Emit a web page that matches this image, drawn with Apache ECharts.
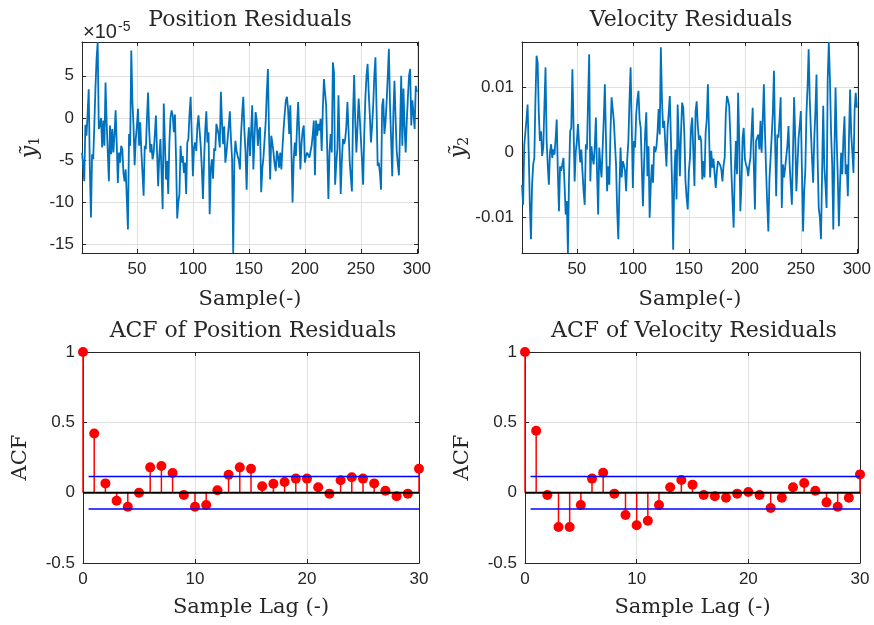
<!DOCTYPE html>
<html>
<head>
<meta charset="utf-8">
<script src="https://cdn.jsdelivr.net/npm/echarts@6/dist/echarts.min.js"></script>
<style>
  html, body { margin: 0; padding: 0; background: #ffffff; }
  #chart { width: 874px; height: 625px; }
</style>
</head>
<body>
<div id="chart"></div>
<script>
// Position residuals, in units of 1e-5 (samples 1..300)
const positionResiduals = [
  -4.1, -5.5, -7.5, -0.8, -2.1, 0.5, 3.4, -6.0, -11.8, -4.3,
  -4.9, -0.9, 3.5, 7.0, 9.0, -1.3, -0.9, 0.0, -3.5, -0.3,
  -3.3, 4.2, -0.5, -4.0, -7.5, -0.9, -4.3, -1.3, -4.1, -2.0,
  0.9, -3.0, -7.7, -4.1, -5.3, -3.3, -3.7, -6.5, -7.5, -6.1,
  -9.5, -13.2, -1.9, -3.3, 8.0, 2.0, -0.9, -5.6, -2.5, -1.0,
  1.1, -3.3, -0.5, -4.0, -6.5, -9.2, -3.3, -3.7, 0.0, 3.0,
  -1.5, -4.1, -3.1, -4.9, -4.1, -2.0, 0.3, -4.0, -8.1, -4.5,
  -2.5, -6.5, -10.8, 1.7, 1.9, -7.3, -5.1, -9.0, -3.0, 0.0,
  0.9, 0.3, -1.7, 0.4, -5.0, -11.9, -10.0, -9.0, -3.3, -5.3,
  -4.5, -6.5, -5.3, -9.0, -2.9, -2.5, 0.5, 2.5, -2.0, -6.9,
  -3.5, -2.9, -3.9, -1.0, 0.3, -1.5, -3.3, -6.0, -9.6, -5.0,
  -1.5, 0.8, -2.9, -1.7, -11.4, -6.0, -4.9, -7.2, -3.6, -3.9,
  -0.7, -1.3, -2.0, -3.5, 3.1, -0.5, -3.1, -1.0, -5.3, -4.1,
  -2.5, -1.0, 0.8, -2.5, -4.9, -16.0, -5.0, -2.7, -3.9, -4.5,
  -5.0, -6.1, -2.0, 0.5, 2.5, -1.5, -4.1, -8.5, -3.0, -1.1,
  -4.5, -1.5, 1.5, -6.1, -2.5, 0.7, -0.3, -3.3, -1.5, -1.1,
  -8.8, -6.0, -4.7, -4.5, -0.5, 3.0, 5.8, -2.0, -7.3, -2.1,
  -3.0, -4.1, -5.5, -6.3, -3.9, -4.5, -5.9, -4.1, -6.1, -3.5,
  -1.3, 0.5, 2.1, 2.5, 1.0, -1.9, 1.5, -4.0, -10.0, -5.0,
  -2.9, -4.5, -1.0, 1.9, -2.0, -6.1, -3.0, -1.5, -0.9, -5.3,
  -4.5, -4.1, -4.0, -4.7, -4.0, -3.3, -2.0, -0.3, -6.8, -0.3,
  -2.1, -0.7, -1.5, -0.1, -3.9, 1.0, 4.6, 3.0, 1.5, -4.0,
  -9.6, -4.0, -1.9, -4.1, 6.6, 5.4, -7.9, -5.5, -3.7, 2.7,
  -3.0, -9.0, -5.0, -2.5, -3.1, -2.5, -1.0, 1.9, -1.5, -5.1,
  -7.0, -8.7, 0.5, 5.1, -0.5, -4.1, -1.0, 2.3, 0.0, -2.5,
  -5.0, -7.9, -2.0, 2.3, 5.0, 6.4, 3.0, 0.3, -2.9, -1.0,
  1.5, 5.0, 7.2, 1.1, -5.7, -5.3, -6.5, -8.5, 1.5, 2.3,
  -1.9, -0.5, 1.9, 5.0, 8.2, 1.5, -2.5, -6.9, 0.5, 4.4,
  -0.1, -3.9, -5.5, -6.8, -1.3, 5.0, -3.3, 3.5, -1.0, -4.1,
  -0.3, 2.5, 5.0, 5.8, -0.9, 2.1, 0.5, -1.3, 3.8, 3.1
];

// Velocity residuals, in units of 1e-2 (samples 1..300)
const velocityResiduals = [
  -0.5, -0.81, 0.1, 0.3, 0.5, 0.73, 0.0, -0.8, -1.34, -0.5,
  -0.19, -0.09, 0.8, 1.48, 1.37, 0.6, 0.17, 0.32, -0.06, 0.07,
  0.7, 1.30, 0.17, -0.2, -0.50, 0.0, 0.12, -0.09, 0.04, -0.04,
  0.2, 0.50, -0.3, -0.91, -0.22, -0.29, -0.27, -0.09, -0.5, -0.96,
  -0.75, -1.55, -0.4, 0.32, 0.37, 1.27, 0.43, -0.45, 0.0, 0.17,
  0.43, 0.1, -0.16, 0.04, -0.3, -0.6, -0.81, 0.12, 0.04, 0.8,
  1.50, -0.45, 0.09, -0.09, -0.19, 0.1, 0.53, -0.3, -0.96, 0.07,
  -0.2, -0.39, -0.39, 0.5, 1.04, 0.2, -0.60, -0.22, -0.50, 0.3,
  0.84, 0.86, 0.48, 0.45, -0.2, -0.9, -1.34, -0.55, 0.07, -0.39,
  -0.14, -0.2, -0.29, -0.60, -0.1, 0.17, 0.8, 1.30, 0.4, -0.55,
  0.17, 0.07, 0.58, 0.8, 0.94, 0.5, 0.37, 0.40, -0.83, -0.2,
  0.3, 0.61, -0.37, 0.09, -1.01, -0.5, -0.19, -0.47, 0.09, 0.0,
  0.07, 0.3, 0.66, 0.27, 1.61, 0.8, 0.37, 0.48, 0.1, -0.22,
  0.37, 0.6, 0.86, 0.2, -0.50, -1.50, -0.4, 0.04, -0.73, 0.73,
  0.2, -0.37, 0.3, 0.76, 0.68, 0.27, -0.45, -0.7, -0.88, -0.3,
  -0.09, 0.37, 0.53, 0.0, -0.52, 0.63, 0.78, 0.4, 0.19, 0.25,
  0.17, -0.42, -0.14, -0.39, 0.3, 0.50, 1.04, 0.32, -0.39, 0.02,
  -0.24, -0.1, -0.11, -0.55, -0.3, -0.14, -0.16, -0.2, -0.27, -0.45,
  -0.2, -0.09, 0.58, 0.86, 0.8, 0.71, 0.27, -0.3, -0.75, -1.16,
  -0.3, 0.17, -0.34, 0.91, 0.17, -0.91, -0.5, 0.22, 0.37, -0.1,
  -0.19, -0.24, -0.37, -0.2, -0.09, 0.3, 0.68, -0.2, -0.88, 0.17,
  0.17, 0.27, 0.04, 0.48, -0.01, 0.5, 1.04, 0.3, -0.29, -0.8,
  -1.22, -0.4, -0.09, -0.09, 0.6, 1.25, 0.2, -0.68, 0.27, 0.22,
  0.5, 0.84, -0.86, -0.19, -0.39, -0.24, -0.24, 0.1, 0.40, -0.19,
  -0.50, -0.81, 0.0, 0.84, 0.22, -0.60, -0.2, 0.22, 0.4, 0.63,
  -0.3, -1.22, -0.6, -0.29, 0.58, 1.0, 1.58, 0.8, 0.32, -0.1,
  -0.47, 0.2, 0.63, 1.19, -0.09, -0.86, -1.0, -1.34, -0.3, 0.71,
  -0.24, -0.5, -0.86, 1.12, 1.69, 1.12, 0.3, -0.19, -1.19, 0.0,
  0.99, 0.2, -0.39, -1.14, -0.5, -0.01, -0.34, 0.2, 0.55, -0.34,
  -0.19, -0.68, 0.22, 0.96, 0.27, 0.0, -0.32, 0.63, 0.91, 0.68
];

// Sample autocorrelation, lags 0..30
const acfPosition = [
  1.0, 0.42, 0.066, -0.057, -0.10, 0.0, 0.18, 0.19, 0.14, -0.017,
  -0.10, -0.088, 0.017, 0.128, 0.18, 0.17, 0.045, 0.064, 0.076, 0.10,
  0.10, 0.038, -0.007, 0.088, 0.109, 0.10, 0.066, 0.014, -0.026, -0.007,
  0.17
];
const acfVelocity = [
  1.0, 0.44, -0.017, -0.244, -0.244, -0.088, 0.10, 0.142, -0.007, -0.159,
  -0.232, -0.20, -0.088, 0.038, 0.09, 0.057, -0.017, -0.026, -0.036, -0.007,
  0.005, -0.017, -0.109, -0.036, 0.038, 0.069, 0.014, -0.069, -0.10, -0.036,
  0.13
];

// Axis ticks
const sampleTicks = [50, 100, 150, 200, 250, 300];
const positionTicks = [-15, -10, -5, 0, 5];
const velocityTicks = [-1, 0, 1];
const lagTicks = [0, 10, 20, 30];
const acfTicks = [-0.5, 0, 0.5, 1];

const numLags = 30;
const acfBound = 0.1155;   // approx. 2/sqrt(N), N = 300
const boundStartLag = 0.5;

const INK = '#262626';
const GRID = '#e0e0e0';
const LINE_BLUE = '#0072BD';
const SERIF = 'DejaVu Serif';
const SANS = 'Liberation Sans';

const chart = echarts.init(document.getElementById('chart'), null, { renderer: 'canvas' });

const grids = [
  { left: 82, top: 42, width: 336, height: 211 },
  { left: 522, top: 42, width: 337, height: 211 },
  { left: 83, top: 352, width: 336, height: 211 },
  { left: 525, top: 352, width: 335, height: 211 }
];

function xPair(g, min, max, ticks, name, nameGap) {
  const base = {
    type: 'value', gridIndex: g, min: min, max: max,
    axisLine: { show: true, onZero: false, lineStyle: { color: INK, width: 1 } },
    axisTick: { show: true, inside: true, length: 4, customValues: ticks, lineStyle: { color: INK } },
  };
  return [
    Object.assign({}, base, {
      position: 'bottom',
      axisLabel: { show: true, customValues: ticks, color: INK, fontFamily: SANS, fontSize: 17, margin: 8 },
      splitLine: { show: true, lineStyle: { color: GRID, width: 1 } },
      name: name, nameLocation: 'middle', nameGap: nameGap,
      nameTextStyle: { fontFamily: SERIF, fontSize: 21, color: INK }
    }),
    Object.assign({}, base, {
      position: 'top',
      axisLabel: { show: false },
      splitLine: { show: false }
    })
  ];
}

function yPair(g, min, max, ticks, fmt, name, nameGap, rich) {
  const base = {
    type: 'value', gridIndex: g, min: min, max: max, splitNumber: ticks.length - 1,
    axisLine: { show: true, onZero: false, lineStyle: { color: INK, width: 1 } },
    axisTick: { show: true, inside: true, length: 4, customValues: ticks, lineStyle: { color: INK } },
  };
  const left = Object.assign({}, base, {
    position: 'left',
    axisLabel: { show: true, customValues: ticks, color: INK, fontFamily: SANS, fontSize: 17, margin: 8, formatter: fmt },
    splitLine: { show: true, lineStyle: { color: GRID, width: 1 } },
    name: name, nameLocation: 'middle', nameGap: nameGap, nameRotate: 90,
    nameTextStyle: { fontFamily: SERIF, fontSize: 21, color: INK, rich: rich }
  });
  const right = Object.assign({}, base, {
    position: 'right',
    axisLabel: { show: false },
    splitLine: { show: false }
  });
  return [left, right];
}

const yRich = {
  y: { fontFamily: SERIF, fontStyle: 'italic', fontSize: 22, color: INK },
  s: { fontFamily: SERIF, fontSize: 14, color: INK, padding: [10, 0, 0, 0] }
};

const xAxes = [].concat(
  xPair(0, 1, 301, sampleTicks, 'Sample(-)', 36),
  xPair(1, 1, 301, sampleTicks, 'Sample(-)', 36),
  xPair(2, 0, numLags, lagTicks, 'Sample Lag (-)', 34),
  xPair(3, 0, numLags, lagTicks, 'Sample Lag (-)', 34)
);
const yAxes = [].concat(
  yPair(0, -16, 9, positionTicks, v => String(v), '{y|ỹ}{s|1}', 40, yRich),
  yPair(1, -1.55, 1.69, velocityTicks, v => (v === 0 ? '0' : (v / 100).toFixed(2)), '{y|ỹ}{s|2}', 50, yRich),
  yPair(2, -0.5, 1, acfTicks, v => String(v), 'ACF', 52, null),
  yPair(3, -0.5, 1, acfTicks, v => String(v), 'ACF', 52, null)
);

function residualSeries(values, g) {
  return {
    type: 'line', xAxisIndex: 2 * g, yAxisIndex: 2 * g,
    data: values.map((v, i) => [i + 1, v]),
    showSymbol: false, symbol: 'none',
    lineStyle: { color: LINE_BLUE, width: 1.8 },
    z: 3
  };
}

function acfSeries(values, g) {
  const pts = values.map((v, lag) => [lag, v]);
  const ax = { xAxisIndex: 2 * g, yAxisIndex: 2 * g };
  return [
    Object.assign({
      type: 'custom',
      data: pts,
      renderItem: function (params, api) {
        const lag = api.value(0), v = api.value(1);
        const p0 = api.coord([lag, 0]);
        const p1 = api.coord([lag, v]);
        return {
          type: 'line',
          shape: { x1: p0[0], y1: p0[1], x2: p1[0], y2: p1[1] },
          style: { stroke: '#ff0000', lineWidth: 1.5 }
        };
      },
      z: 3
    }, ax),
    Object.assign({
      type: 'scatter', data: pts, symbol: 'circle', symbolSize: 10,
      itemStyle: { color: '#ff0000', opacity: 1 }, z: 4
    }, ax),
    Object.assign({
      type: 'line', data: [[boundStartLag, acfBound], [numLags, acfBound]],
      showSymbol: false, symbol: 'none', lineStyle: { color: '#0000ff', width: 1.5 }, z: 5
    }, ax),
    Object.assign({
      type: 'line', data: [[boundStartLag, -acfBound], [numLags, -acfBound]],
      showSymbol: false, symbol: 'none', lineStyle: { color: '#0000ff', width: 1.5 }, z: 5
    }, ax),
    Object.assign({
      type: 'line', data: [[0, 0], [numLags, 0]],
      showSymbol: false, symbol: 'none', lineStyle: { color: '#000000', width: 2 }, z: 6
    }, ax)
  ];
}

const titleFont = '22px "' + SERIF + '"';
function titleText(text, cx, cy) {
  return {
    type: 'text', x: cx, y: cy,
    style: { text: text, font: titleFont, fill: INK, textAlign: 'center', textVerticalAlign: 'middle' }
  };
}

const option = {
  animation: false,
  backgroundColor: '#ffffff',
  grid: grids,
  xAxis: xAxes,
  yAxis: yAxes,
  series: [].concat(
    [residualSeries(positionResiduals, 0), residualSeries(velocityResiduals, 1)],
    acfSeries(acfPosition, 2),
    acfSeries(acfVelocity, 3)
  ),
  graphic: [
    titleText('Position Residuals', 250, 20),
    titleText('Velocity Residuals', 691, 20),
    titleText('ACF of Position Residuals', 253, 331),
    titleText('ACF of Velocity Residuals', 694, 331),
    // axis exponent for the position plot
    {
      type: 'text', x: 83, y: 22,
      style: {
        text: '×10', fill: INK, font: '20px "' + SANS + '"',
        textAlign: 'left', textVerticalAlign: 'top'
      }
    },
    {
      type: 'text', x: 118, y: 20,
      style: {
        text: '-5', fill: INK, font: '14px "' + SANS + '"',
        textAlign: 'left', textVerticalAlign: 'top'
      }
    }
  ]
};

chart.setOption(option);
</script>
</body>
</html>
